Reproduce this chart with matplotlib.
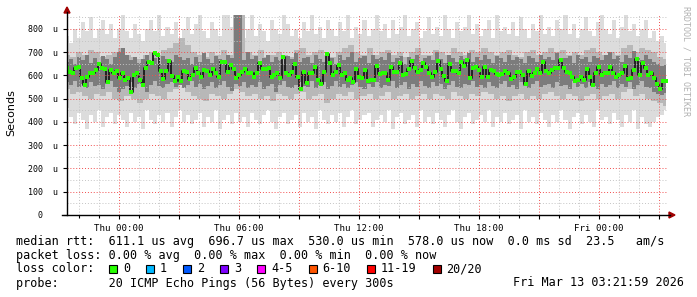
import numpy as np
import matplotlib.pyplot as plt
from matplotlib.patches import Rectangle, Polygon

# median rtt in microseconds, read left to right (Wed ~21:24 .. Fri ~03:20)
median = [630, 615, 610, 630, 635, 587, 558, 595, 610, 610, 623, 648, 630, 626, 573, 623,
          610, 620, 587, 610, 580, 587, 530, 601, 610, 580, 558, 630, 660, 652, 697, 688,
          620, 583, 620, 664, 597, 575, 594, 577, 620, 616, 583, 601, 630, 612, 594, 623,
          619, 601, 626, 609, 594, 659, 659, 616, 645, 626, 587, 601, 616, 626, 609,
          609, 594, 612, 652, 628, 628, 630, 594, 601, 612, 587, 678, 609, 601, 616, 649,
          594, 543, 616, 568, 609, 612, 638, 580, 565, 616, 691, 655, 601, 616, 645, 601,
          612, 580, 587,
          572, 626, 594, 587, 623, 577, 580, 580, 641, 606, 612, 612, 580, 638, 616, 616,
          655, 601, 606, 626, 664, 630, 616, 623, 655, 638, 612, 594, 616, 664, 626, 597,
          577, 649, 619,
          620, 612, 659, 641, 667, 587, 630, 635, 623, 594, 638, 594, 623, 619, 606, 604,
          606, 619, 609, 583, 594, 616, 616, 601, 562, 619, 597, 609, 626, 609, 657, 619,
          609, 623, 630,
          630, 667, 630, 616, 609, 594, 577, 580, 594, 580, 626, 594, 558, 612, 635, 601,
          609, 609, 638, 609, 594, 604, 609, 641, 583, 587, 623, 670, 601, 655, 630, 601,
          609, 587, 565, 543, 575, 578]

# smoke: outer (lightest) limits, microseconds
hi_out = [770, 740, 800, 760, 830, 790, 850, 760, 800, 840, 780, 820, 760, 800, 860,
          790, 760, 820, 780, 750, 800, 840, 790, 860, 770, 810, 780, 830, 760, 800,
          850, 780, 820, 860, 790, 760, 830, 800, 770, 860, 860, 810, 780, 840, 760,
          800, 860, 770, 820, 790, 750, 840, 800, 780, 860, 820, 770, 800, 760, 830,
          790, 860, 780, 810, 760, 840, 800, 770, 830, 790, 860, 760, 810, 780, 840,
          770, 800, 860, 790, 820, 760, 840, 780, 810, 860, 770, 800, 830, 760, 790,
          850, 780, 810, 770, 860, 800, 760, 830, 790, 810, 860, 780, 820, 770, 800,
          840, 760, 860, 790, 810, 780, 830, 770, 850, 800, 760, 820, 790, 860, 780,
          810, 770, 840, 800, 860, 780, 820, 760, 800, 850, 790, 770, 830, 860, 800,
          780, 840, 760, 810, 860, 790, 820, 770, 800, 840, 760, 790, 750, 770, 740]
lo_out = [460, 420, 390, 440, 410, 370, 430, 400, 450, 380, 420, 440, 390, 430, 410,
          380, 440, 400, 420, 370, 450, 410, 390, 430, 400, 440, 380, 420, 450, 400,
          430, 390, 410, 440, 380, 420, 400, 450, 370, 410, 430, 390, 440, 400, 420,
          380, 440, 410, 390, 430, 450, 400, 370, 420, 440, 390, 410, 430, 380, 440,
          400, 420, 370, 450, 410, 390, 430, 400, 440, 380, 420, 450, 390, 410, 430,
          440, 380, 410, 430, 400, 450, 370, 420, 440, 390, 410, 430, 380, 450, 400,
          420, 390, 440, 410, 380, 430, 450, 400, 370, 420, 440, 390, 410, 430, 400,
          450, 380, 420, 400, 440, 390, 410, 430, 370, 450, 400, 420, 390, 440, 410,
          380, 430, 400, 450, 410, 370, 420, 440, 390, 430, 400, 380, 450, 410, 420,
          390, 440, 410, 380, 430, 400, 450, 370, 420, 390, 380, 400, 420, 430, 450]
# smoke: middle band limits
hi_mid = [690, 680, 700, 690, 710, 700, 680, 690, 700, 720,
          690, 680, 670, 690, 700, 690, 710, 720, 740, 760,
          730, 700, 690, 680, 700, 690, 710, 690, 860, 860,
          700, 690, 710, 680, 690, 700, 690, 680, 710, 720,
          690, 700, 710, 690, 680, 700, 720, 730, 700, 690,
          720, 690, 700, 710, 690, 700, 680, 700, 720, 690,
          690, 710, 700, 690, 720, 700, 690, 710, 700, 720,
          700, 690, 700, 710, 690, 680, 700, 710, 690, 700,
          720, 700, 710, 690, 700, 690, 710, 720, 700, 690,
          700, 690, 720, 730, 700, 720, 710, 700, 680, 670]
lo_mid = [540, 520, 530, 510, 500, 520, 510, 530, 500, 490,
          510, 500, 480, 500, 520, 510, 500, 530, 540, 560,
          530, 510, 500, 490, 520, 510, 500, 520, 540, 530,
          510, 520, 500, 510, 490, 520, 510, 500, 520, 530,
          500, 510, 520, 480, 500, 520, 510, 530, 500, 510,
          520, 500, 510, 530, 500, 510, 520, 500, 510, 520,
          500, 520, 510, 500, 530, 510, 500, 520, 510, 530,
          520, 500, 510, 490, 510, 520, 500, 510, 500, 520,
          530, 510, 500, 520, 510, 490, 510, 520, 500, 510,
          520, 500, 530, 540, 510, 520, 500, 490, 480, 470]
# smoke: dark inner band limits
hi_in = [660, 670, 650, 680, 665, 690, 655, 675, 660, 685, 670, 650, 680, 700, 720,
         690, 665, 680, 655, 670, 690, 660, 675, 650, 685, 670, 660, 690, 680, 665,
         675, 650, 680, 660, 695, 670, 655, 685, 670, 660, 690, 675, 860, 860, 665,
         700, 670, 685, 655, 675, 690, 660, 680, 665, 650, 685, 670, 695, 660, 675,
         680, 655, 690, 670, 660, 685, 675, 650, 690, 665, 680, 700, 660, 675, 685,
         655, 690, 670, 680, 665, 695, 660, 675, 685, 650, 680, 670, 690, 660, 675,
         685, 665, 700, 670, 655, 690, 675, 660, 685, 670, 695, 660, 680, 665, 690,
         670, 655, 685, 675, 660, 690, 665, 680, 670, 655, 685, 675, 660, 690, 670,
         680, 665, 695, 660, 675, 685, 655, 690, 670, 680, 660, 685, 675, 665, 690,
         700, 670, 685, 660, 690, 675, 705, 680, 665, 690, 670, 660, 650, 640, 645]
lo_in = [570, 560, 575, 550, 565, 545, 570, 555, 560, 540, 565, 575, 550, 530, 540,
         555, 570, 545, 565, 550, 530, 560, 575, 555, 545, 565, 570, 550, 560, 545,
         560, 575, 550, 565, 540, 555, 570, 545, 560, 575, 550, 535, 565, 555, 570,
         545, 560, 550, 570, 540, 555, 565, 530, 560, 575, 550, 545, 560, 570, 555,
         550, 575, 545, 560, 570, 540, 555, 575, 550, 565, 545, 560, 570, 550, 540,
         565, 550, 570, 545, 560, 555, 575, 545, 560, 570, 540, 565, 550, 575, 555,
         545, 570, 555, 565, 540, 560, 575, 550, 545, 565, 560, 575, 550, 560, 545,
         570, 555, 545, 565, 575, 550, 560, 540, 570, 555, 545, 565, 575, 550, 560,
         565, 545, 570, 555, 560, 540, 575, 550, 565, 545, 570, 555, 540, 565, 550,
         560, 575, 545, 565, 550, 570, 540, 560, 575, 550, 545, 530, 520, 515, 525]

x_labels_at = [0, 6, 12, 18, 24]   # hours after Thu 00:00
x_labels = ['Thu 00:00', 'Thu 06:00', 'Thu 12:00', 'Thu 18:00', 'Fri 00:00']
y_ticks = [0, 100, 200, 300, 400, 500, 600, 700, 800]

loss_labels = ['0', '1', '2', '3', '4-5', '6-10', '11-19', '20/20']
loss_colors = ['#26ff00', '#00b8ff', '#0059ff', '#7e00ff', '#ff00ff', '#ff5500', '#ff0000', '#a10000']

t0, t1 = -2.6, 27.35  # first and last sample (hours)
tm = np.linspace(t0, t1, len(median))
ts = np.linspace(t0, t1, len(hi_out))
tmid = np.linspace(t0, t1, len(hi_mid))
tin = np.linspace(t0, t1, len(hi_in))

mono = 'DejaVu Sans Mono'
W, H = 697, 297
fig = plt.figure(figsize=(W / 100, H / 100), dpi=100)
ax = fig.add_axes([67 / W, 82 / H, 601 / W, 200 / H])

ax.fill_between(ts, lo_out, hi_out, step='mid', color='#dcdcdc', lw=0, zorder=1)
ax.fill_between(tmid, lo_mid, hi_mid, step='mid', color='#b8b8b8', lw=0, zorder=1.1)
ax.fill_between(tin, lo_in, hi_in, step='mid', color='#7c7c7c', lw=0, zorder=1.2)
ax.step(tm, median, where='mid', color='#1a1a1a', lw=1.3, zorder=1.4)
ax.plot(tm, median, 's', ms=2.4, color='#26ff00', mew=0, zorder=4)

ax.set_xlim(-2.6, 27.45)
ax.set_ylim(0, 860)

maj_x = np.arange(0, 28, 3)
ax.set_xticks(maj_x)
ax.set_xticklabels([x_labels[x_labels_at.index(h)] if h in x_labels_at else '' for h in maj_x])
ax.set_xticks(np.arange(-2, 28, 1), minor=True)
ax.set_yticks(y_ticks)
ax.set_yticklabels(['0   '] + ['%d  u' % v for v in y_ticks[1:]])
ax.set_yticks(np.arange(50, 860, 100), minor=True)

ax.set_axisbelow(False)
ax.grid(which='major', color=(0.95, 0.3, 0.3, 0.45), ls=(0, (1, 2)), lw=0.7)
ax.grid(which='minor', color='#c4c4c4', ls=(0, (1, 2)), lw=0.7)
ax.tick_params(which='both', direction='out', length=3, width=0.8, color='black', labelsize=6.6)
ax.tick_params(axis='y', which='major', labelsize=6.0)
ax.tick_params(axis='x', which='minor', length=2)
ax.tick_params(axis='y', which='minor', length=0)
for lab in ax.get_xticklabels() + ax.get_yticklabels():
    lab.set_family(mono)
for s in ax.spines.values():
    s.set_visible(False)

# overlay in pixel coordinates for axis lines, arrows and the legend block
o = fig.add_axes([0, 0, 1, 1], zorder=5)
o.set_xlim(0, W)
o.set_ylim(H, 0)
o.axis('off')
o.patch.set_visible(False)
o.plot([67, 67], [215, 12], color='black', lw=1)
o.plot([62, 670], [215, 215], color='black', lw=1)
o.add_patch(Polygon([[64, 13], [70, 13], [67, 7]], closed=True, color='#a00000'))
o.add_patch(Polygon([[669, 212], [669, 218], [675, 215]], closed=True, color='#a00000'))

o.text(11, 113, 'Seconds', rotation=90, ha='center', va='center', fontsize=8, family='DejaVu Sans')
o.text(686, 6, 'RRDTOOL / TOBI OETIKER', rotation=270, ha='center', va='top',
       fontsize=6, family=mono, color='#b0b0b0')

fs = 8.5
o.text(16, 241, 'median rtt:  611.1 us avg  696.7 us max  530.0 us min  578.0 us now  0.0 ms sd  23.5   am/s',
       family=mono, fontsize=fs, va='center')
o.text(16, 255, 'packet loss: 0.00 % avg  0.00 % max  0.00 % min  0.00 % now',
       family=mono, fontsize=fs, va='center')
o.text(16, 269, 'loss color:', family=mono, fontsize=fs, va='center')
x = 109
for lab, col in zip(loss_labels, loss_colors):
    o.add_patch(Rectangle((x, 265), 8, 8, facecolor=col, edgecolor='black', lw=0.8))
    o.text(x + 14, 269, lab, family=mono, fontsize=fs, va='center')
    x += 14 + 7.1 * len(lab) + 16
o.text(16, 283, 'probe:       20 ICMP Echo Pings (56 Bytes) every 300s', family=mono, fontsize=fs, va='center')
o.text(513, 283, 'Fri Mar 13 03:21:59 2026', family=mono, fontsize=fs, va='center')

plt.savefig('out.png', dpi=100)
